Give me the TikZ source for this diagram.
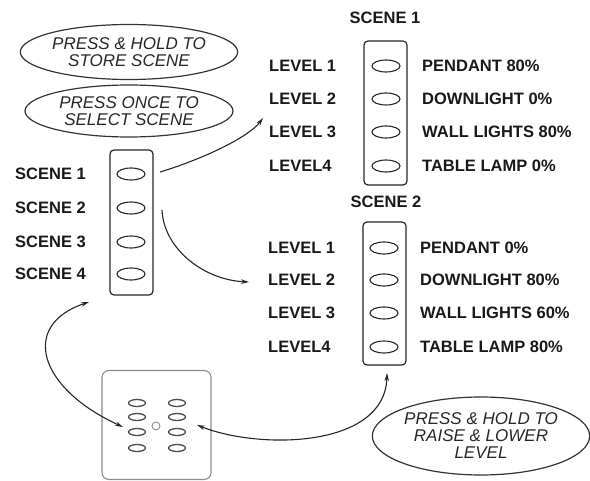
\documentclass[tikz,border=0pt]{standalone}
\usepackage{fontspec}
\setmainfont{Liberation Sans}
\usetikzlibrary{shapes.geometric,arrows.meta}
\begin{document}
\begin{tikzpicture}[x=1pt,y=-1pt,
  lbl/.style={font=\fontsize{16.5}{17}\selectfont\bfseries, text=black!90, inner sep=0pt, anchor=west, text height=12pt, text depth=0pt},
  head/.style={font=\fontsize{16.5}{17}\selectfont\bfseries, text=black!90, inner sep=0pt, text height=12pt, text depth=0pt},
  note/.style={ellipse, draw=black!80, line width=1.2pt, font=\fontsize{17}{17}\selectfont\itshape, text=black!85, align=center, inner sep=0pt},
  panel/.style={draw=black!85, line width=1.2pt, rounded corners=4pt, inner sep=0pt},
  btn/.style={ellipse, draw=black!85, line width=1.1pt, minimum width=28pt, minimum height=12pt, inner sep=0pt},
  dev/.style={draw=black!45, line width=1.1pt, rounded corners=7pt, inner sep=0pt},
  dbtn/.style={ellipse, draw=black!70, line width=1.3pt, minimum width=17pt, minimum height=7pt, inner sep=0pt},
  conn/.style={line width=1.1pt, draw=black!85, -{Stealth[length=8pt,width=4.5pt]}},
  conn2/.style={line width=1.1pt, draw=black!85, {Stealth[length=8pt,width=4.5pt]}-{Stealth[length=8pt,width=4.5pt]}}]
\useasboundingbox (0,0) rectangle (590,481);

% notes
\node[note, minimum width=208pt, minimum height=55pt] (n1) at (129,52) {PRESS \& HOLD TO\\STORE SCENE};
\node[note, minimum width=208pt, minimum height=52pt] (n2) at (129,111) {PRESS ONCE TO\\SELECT SCENE};
\node[note, minimum width=213pt, minimum height=78pt] (n3) at (481,436) {PRESS \& HOLD TO\\RAISE \& LOWER\\LEVEL};

% left scene panel
\node[panel, minimum width=43pt, minimum height=145pt] (sp) at (131.5,222.5) {};
\node[btn] (s1) at (131,174) {};
\node[btn] (s2) at (131,208) {};
\node[btn] (s3) at (131,242) {};
\node[btn] (s4) at (131,274) {};
\node[lbl] (ls1) at (15,174) {SCENE 1};
\node[lbl] (ls2) at (15,208) {SCENE 2};
\node[lbl] (ls3) at (15,242) {SCENE 3};
\node[lbl] (ls4) at (15,274) {SCENE 4};

% scene 1 panel
\node[head] (h1) at (385,18) {SCENE 1};
\node[panel, minimum width=43pt, minimum height=144pt] (p1) at (385.5,113) {};
\node[btn] (a1) at (386,66) {};
\node[btn] (a2) at (386,99) {};
\node[btn] (a3) at (386,132) {};
\node[btn] (a4) at (386,166) {};
\node[lbl] (la1) at (269,66) {LEVEL 1};
\node[lbl] (la2) at (269,99) {LEVEL 2};
\node[lbl] (la3) at (269,132) {LEVEL 3};
\node[lbl] (la4) at (269,166) {LEVEL4};
\node[lbl] (ra1) at (422,66) {PENDANT 80\%};
\node[lbl] (ra2) at (422,99) {DOWNLIGHT 0\%};
\node[lbl] (ra3) at (422,132) {WALL LIGHTS 80\%};
\node[lbl] (ra4) at (422,166) {TABLE LAMP 0\%};

% scene 2 panel
\node[head] (h2) at (386,202) {SCENE 2};
\node[panel, minimum width=43pt, minimum height=143pt] (p2) at (384.5,293.5) {};
\node[btn] (b1) at (384,248) {};
\node[btn] (b2) at (384,280) {};
\node[btn] (b3) at (384,313) {};
\node[btn] (b4) at (384,347) {};
\node[lbl] (lb1) at (268,248) {LEVEL 1};
\node[lbl] (lb2) at (268,280) {LEVEL 2};
\node[lbl] (lb3) at (268,313) {LEVEL 3};
\node[lbl] (lb4) at (268,347) {LEVEL4};
\node[lbl] (rb1) at (420,248) {PENDANT 0\%};
\node[lbl] (rb2) at (420,280) {DOWNLIGHT 80\%};
\node[lbl] (rb3) at (420,313) {WALL LIGHTS 60\%};
\node[lbl] (rb4) at (420,347) {TABLE LAMP 80\%};

% device
\node[dev, minimum width=109pt, minimum height=109pt] (dv) at (156.5,425) {};
\node[dbtn] (d1) at (137,403) {};
\node[dbtn] (d2) at (137,417) {};
\node[dbtn] (d3) at (137,432) {};
\node[dbtn] (d4) at (137,448) {};
\node[dbtn] (e1) at (177,403) {};
\node[dbtn] (e2) at (177,417) {};
\node[dbtn] (e3) at (177,432) {};
\node[dbtn] (e4) at (177,448) {};
\node[circle, draw=black!45, line width=0.9pt, minimum size=8pt, inner sep=0pt] (led) at (156,426) {};

% connector ends
\coordinate (c1s) at (160,172);
\coordinate (c1e) at (263,118);
\coordinate (c2s) at (162,210);
\coordinate (c2e) at (249,282);
\coordinate (c3s) at (89,302);
\coordinate (c3e) at (123,427);
\coordinate (c4s) at (197,425);
\coordinate (c4e) at (387,373);

\draw[conn] (c1s) .. controls (200,160) and (248,138) .. (c1e);
\draw[conn] (c2s) .. controls (164,250) and (205,280) .. (c2e);
\draw[conn2] (c3s) .. controls (20,325) and (38,388) .. (c3e);
\draw[conn2] (c4s) .. controls (260,450) and (385,448) .. (c4e);
\end{tikzpicture}
\end{document}
